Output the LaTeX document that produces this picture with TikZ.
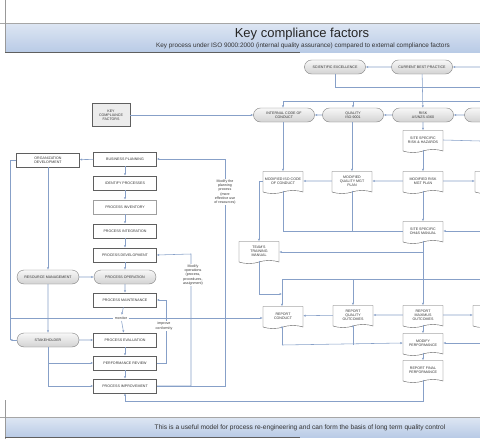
\documentclass[tikz,border=0pt]{standalone}
\usepackage{fontspec}
\setmainfont{Liberation Sans}
\usetikzlibrary{arrows.meta,shapes.misc,shapes.symbols}
\definecolor{linea}{RGB}{135,160,200}
\definecolor{banda}{RGB}{185,203,230}
\definecolor{borde}{RGB}{95,95,95}
\tikzset{
  txt/.style={font=\fontsize{3.6}{4.2}\selectfont, align=center, inner sep=0.5pt, text=black!80},
  proc/.style={txt, rectangle, draw=borde, fill=white, minimum width=63pt, minimum height=14pt, line width=0.5pt},
  pill/.style={txt, rounded rectangle, draw=borde!80, top color=gray!6, bottom color=gray!35, minimum width=62pt, minimum height=14pt},
  doc/.style={txt, tape, tape bend top=none, tape bend height=3pt, draw=borde, fill=white, minimum width=40pt, minimum height=22pt},
  con/.style={draw=linea, line width=0.55pt},
  arr/.style={con, -{Latex[length=2.4pt,width=2.2pt]}},
  nota/.style={txt, fill=white, inner sep=0.8pt}
}
\begin{document}
\begin{tikzpicture}[x=1pt,y=-1pt]
\clip (0,0) rectangle (480,439);
\fill[white] (0,0) rectangle (480,439);
% Bandas de titulo y pie
\shade[top color=banda!50, bottom color=banda] (5,24) rectangle (480,52);
\shade[top color=banda!50, bottom color=banda] (5,418) rectangle (480,437);
\draw[gray!70] (0,23) -- (480,23);
\draw[gray!70] (0,417) -- (480,417);
\draw[gray!80] (5,0) -- (5,52);
\draw[gray!80] (5,400) -- (5,439);
\draw[borde] (5,52) -- (300,52);
\draw[borde] (5,437) -- (300,437);
\node[text=black!85] (titulo) at (302,34) {\fontsize{13}{15}\selectfont Key compliance factors};
\node[text=black!80] (subtitulo) at (303,46) {\fontsize{6.4}{7}\selectfont Key process under ISO 9000:2000 (internal quality assurance) compared to external compliance factors};
\node[text=black!80] (pie) at (300,428) {\fontsize{6.6}{7}\selectfont This is a useful model for process re-engineering and can form the basis of long term quality control};

% Factores externos
\node[pill] (cienc) at (335,67) {SCIENTIFIC EXCELLENCE};
\node[pill] (practica) at (422,67) {CURRENT BEST PRACTICE};
\node[pill] (codigo) at (284,115) {INTERNAL CODE OF\\CONDUCT};
\node[pill] (calidad) at (353,115) {QUALITY\\ISO-9001};
\node[pill] (riesgo) at (423,115) {RISK\\AS/NZS 4360};
\node[pill] (extra) at (495,115) {};
\node[proc, fill=gray!15, minimum width=38pt, minimum height=23pt] (clave) at (111,115) {KEY\\COMPLIANCE\\FACTORS};
\node[doc] (sitio) at (423,140) {SITE SPECIFIC\\RISK \& HAZARDS};
\node[doc] (mcodigo) at (283,181) {MODIFIED ISO CODE\\OF CONDUCT};
\node[doc] (mcalidad) at (352,181) {MODIFIED\\QUALITY MGT\\PLAN};
\node[doc] (mriesgo) at (423,181) {MODIFIED RISK\\MGT PLAN};
\node[doc] (mextra) at (495,181) {};
\node[doc] (ohs) at (423,231) {SITE SPECIFIC\\OH\&S MANUAL};
\node[doc] (equipo) at (259,251) {TEAM'S\\TRAINING\\MANUAL};
\node[doc] (rconducta) at (283,316) {REPORT\\CONDUCT};
\node[doc] (rcalidad) at (353,315) {REPORT\\QUALITY\\OUTCOMES};
\node[doc] (rmaximus) at (423,315) {REPORT\\MAXIMUS\\OUTCOMES};
\node[doc] (rextra) at (493,315) {};
\node[doc] (mdesemp) at (423,343) {MODIFY\\PERFORMANCE};
\node[doc] (rfinal) at (423,370) {REPORT FINAL\\PERFORMANCE};

% Columna de procesos
\node[proc] (negocio) at (125,159) {BUSINESS PLANNING};
\node[proc] (identif) at (125,183) {IDENTIFY PROCESSES};
\node[proc, draw=borde!60] (invent) at (125,207) {PROCESS INVENTORY};
\node[proc] (integ) at (125,231) {PROCESS INTEGRATION};
\node[proc] (desarr) at (125,255) {PROCESS DEVELOPMENT};
\node[pill, minimum width=63pt] (operac) at (125,277) {PROCESS OPERATION};
\node[proc] (manten) at (125,300) {PROCESS MAINTENANCE};
\node[txt, fill=white, inner sep=1.5pt] (monitor) at (121,318) {monitor};
\node[proc] (evalua) at (125,340) {PROCESS EVALUATION};
\node[proc] (revision) at (125,363) {PERFORMANCE REVIEW};
\node[proc] (mejora) at (125,386) {PROCESS IMPROVEMENT};
\node[proc] (organiz) at (48,160) {ORGANIZATION\\DEVELOPMENT};
\node[pill, minimum width=63pt] (recursos) at (48,277) {RESOURCE MANAGEMENT};
\node[pill, minimum width=63pt] (partes) at (48,340) {STAKEHOLDER};

\coordinate (d1) at (480,67);
\coordinate (d2) at (480,231);
\coordinate (d3) at (480,343);
\coordinate (izq) at (10,340);

% Conexiones de arriba
\draw[arr, {Latex[length=2.4pt,width=2.2pt]}-] (cienc) -- (practica);
\draw[arr] (d1) -- (practica);
\draw[con] (cienc.south) |- (480,87);
\draw[arr] (practica) -- (riesgo);
\draw[con] (283,101) -- (480,101);
\draw[arr] (283,101) -- (codigo.north -| 283,0);
\draw[arr] (353,101) -- (calidad.north);
\draw[arr] (extra) -- (riesgo);
\draw[arr] (riesgo) -- (calidad);
\draw[arr] (calidad) -- (codigo);
\draw[arr] (clave) -- (codigo);
\draw[arr] (riesgo) -- (sitio);
\draw[con] (sitio.east) -- (480,141);
\draw[arr] (codigo.south -| 283,0) -- (mcodigo.north -| 283,0);
\draw[arr] (calidad.south -| 352,0) -- (mcalidad.north);
\draw[arr] (sitio.south) -- (mriesgo.north);
\draw[arr] (mriesgo) -- (mcalidad);
\draw[arr] (mcalidad) -- (mcodigo);
\draw[arr] (mriesgo) -- (mextra);
\draw[arr] (mriesgo.south) -- (ohs.north);
\draw[arr] (d2) -- (ohs.east);
\draw[con] (mcodigo.south -| 283,0) |- (ohs.west);
\draw[con] (mcalidad.south -| 352,0) -- (352,231);
\draw[arr] (mcodigo.west) -| (equipo.north);
\draw[arr] (423,252) -- (equipo.east |- 423,252);
\draw[arr] (ohs.south) -- (rmaximus.north);
\draw[arr] (equipo.south) |- (282,294);
\draw[con] (282,279) -- (480,279);
\draw[arr] (282,279) -- (rconducta.north -| 282,0);
\draw[arr] (353,279) -- (rcalidad.north);
\draw[arr] (rmaximus) -- (rcalidad);
\draw[arr] (rcalidad) -- (rconducta);
\draw[arr] (rmaximus) -- (rextra);
\draw[arr] (rmaximus.south) -- (mdesemp.north);
\draw[arr] (mdesemp.south) -- (rfinal.north);
\draw[arr] (d3) -- (mdesemp.east);
\draw[arr] (282,345) -- (mdesemp.west);
\draw[arr] (282,345) -- (rconducta.south -| 282,0);
\draw[arr] (353,345) -- (rcalidad.south);
\draw[arr] (rfinal.south) |- (125,401) -- (mejora.south);

% Columna de procesos
\foreach \a/\b in {negocio/identif, identif/invent, invent/integ, integ/desarr, desarr/operac, operac/manten, manten/monitor, monitor/evalua, evalua/revision, revision/mejora}
  \draw[arr] (\a) -- (\b);
\draw[arr] (negocio) -- (organiz);
\draw[arr] (organiz) -- (recursos);
\draw[arr] (recursos) -- (operac);
\draw[arr] (recursos) -- (partes);
\draw[arr] (partes) -- (evalua);
\draw[arr] (partes.south) |- (revision.west);
\draw[arr] (partes.south) |- (mejora.west);
\draw[con] (organiz.west) -| (izq);
\draw[arr] (partes.west) -- (izq);
\draw[con] (10,318) -- (monitor.west);
\draw[arr] (monitor.east) -- (monitor.east -| rconducta.west);

% Retroalimentacion
\draw[arr] (revision.east) -| (166,300) -- (manten.east);
\node[nota] (nota0) at (164,326) {improve\\conformity};
\draw[arr] (mejora.east) -| (191,254) -- (desarr.east);
\node[nota] (nota1) at (193,275) {Modify\\operations\\(process,\\procedures,\\assignment)};
\draw[arr] (mejora.east) -| (225,159) -- (negocio.east);
\node[nota] (nota2) at (225,192) {Modify the\\planning\\process\\(more\\effective use\\of resources)};
\end{tikzpicture}
\end{document}
